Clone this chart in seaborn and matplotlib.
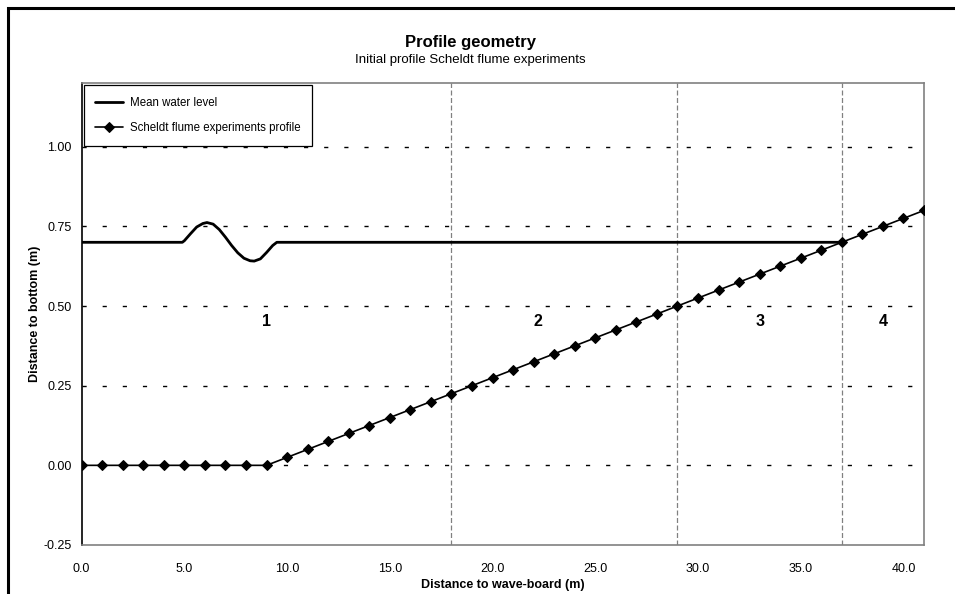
import numpy as np
import pandas as pd
import matplotlib
matplotlib.use("Agg")
import matplotlib.pyplot as plt
import seaborn as sns
from matplotlib.patches import Rectangle

# profile of the flume bottom (distance to wave-board, height)
profile_x = [0, 1, 2, 3, 4, 5, 6, 7, 8, 9, 10, 11, 12, 13, 14, 15, 16, 17, 18, 19, 20,
             21, 22, 23, 24, 25, 26, 27, 28, 29, 30, 31, 32, 33, 34, 35, 36, 37, 38, 39, 40, 41]
profile_y = [0.0, 0.0, 0.0, 0.0, 0.0, 0.0, 0.0, 0.0, 0.0, 0.0, 0.025, 0.05, 0.075, 0.1,
             0.125, 0.15, 0.175, 0.2, 0.225, 0.25, 0.275, 0.3, 0.325, 0.35, 0.375, 0.4,
             0.425, 0.45, 0.475, 0.5, 0.525, 0.55, 0.575, 0.6, 0.625, 0.65, 0.675, 0.7,
             0.725, 0.75, 0.775, 0.8]

# mean water level with the sketched wave
water_x = [0, 4.9, 5.0, 5.3, 5.6, 5.9, 6.1, 6.4, 6.7, 7.0, 7.3, 7.6, 7.9, 8.2, 8.4,
           8.7, 9.0, 9.3, 9.5, 9.6, 37.0]
water_y = [0.70, 0.70, 0.705, 0.727, 0.748, 0.759, 0.762, 0.757, 0.740, 0.716, 0.690,
           0.667, 0.650, 0.642, 0.641, 0.648, 0.668, 0.690, 0.700, 0.700, 0.70]

zone_bounds = [18, 29, 37]
zone_labels = ["1", "2", "3", "4"]
zone_label_x = [9.0, 22.2, 33.0, 39.0]
zone_label_y = 0.45

y_ticks = [-0.25, 0.0, 0.25, 0.5, 0.75, 1.0]
x_ticks = [0, 5, 10, 15, 20, 25, 30, 35, 40]

sns.set_style("white")
plt.rcParams["font.family"] = ["Liberation Sans", "DejaVu Sans"]
plt.rcParams["text.color"] = "black"
plt.rcParams["axes.labelcolor"] = "black"
plt.rcParams["xtick.color"] = "black"
plt.rcParams["ytick.color"] = "black"

prof_df = pd.DataFrame({"x": profile_x, "y": profile_y})
water_df = pd.DataFrame({"x": water_x, "y": water_y})

fig = plt.figure(figsize=(9.55, 5.94), dpi=100)
ax = fig.add_axes([0.0855, 0.0825, 0.8820, 0.7778])

# horizontal dashed grid
for yv in [0.0, 0.25, 0.5, 0.75, 1.0]:
    ax.axhline(yv, color="black", lw=1.0, dashes=(3, 11.5), zorder=1)
# zone boundaries
for xv in zone_bounds:
    ax.axvline(xv, color="#808080", lw=0.9, dashes=(4, 2), zorder=1)

sns.lineplot(data=water_df, x="x", y="y", ax=ax, color="black", lw=2.0,
             sort=False, label="Mean water level", zorder=3)
sns.lineplot(data=prof_df, x="x", y="y", ax=ax, color="black", lw=1.2,
             marker="D", markersize=5.5, markeredgecolor="black",
             label="Scheldt flume experiments profile", zorder=4)

for lab, lx in zip(zone_labels, zone_label_x):
    ax.text(lx, zone_label_y, lab, fontsize=11.5, fontweight="bold",
            ha="center", va="center")

ax.set_xlim(0, 41)
ax.set_ylim(-0.25, 1.2)
ax.set_xticks(x_ticks)
ax.set_xticklabels([f"{v:.1f}" for v in x_ticks], fontsize=9)
ax.set_yticks(y_ticks)
ax.set_yticklabels([f"{v:.2f}" for v in y_ticks], fontsize=9)
ax.tick_params(axis="y", length=4, width=1, color="black", direction="out", pad=3)
ax.tick_params(axis="x", length=0, pad=13)

for side in ["top", "right", "bottom"]:
    ax.spines[side].set_color("#808080")
    ax.spines[side].set_linewidth(1.2)
ax.spines["left"].set_color("black")
ax.spines["left"].set_linewidth(1.2)

ax.set_xlabel("Distance to wave-board (m)", fontsize=9, fontweight="bold", labelpad=3)
ax.set_ylabel("Distance to bottom (m)", fontsize=9, fontweight="bold", labelpad=2)

leg = ax.legend(loc="upper left", fontsize=8.3, frameon=True, fancybox=False,
                edgecolor="black", borderaxespad=0.2, handlelength=2.4,
                handletextpad=0.6, labelspacing=1.15, borderpad=1.0, framealpha=1)
leg.get_frame().set_linewidth(0.9)

fig.text(470 / 955, 1 - 43 / 594, "Profile geometry", fontsize=12,
         fontweight="bold", ha="center", va="center")
fig.text(470 / 955, 1 - 60 / 594, "Initial profile Scheldt flume experiments",
         fontsize=9.5, ha="center", va="center")

# outer chart frame (cut off at right and bottom)
fig.patches.append(Rectangle((7.5 / 955, -0.1), 1.2, 1 - 8.5 / 594 + 0.1,
                             transform=fig.transFigure, fill=False,
                             edgecolor="black", lw=2.2))

fig.savefig("out.png", dpi=100)
